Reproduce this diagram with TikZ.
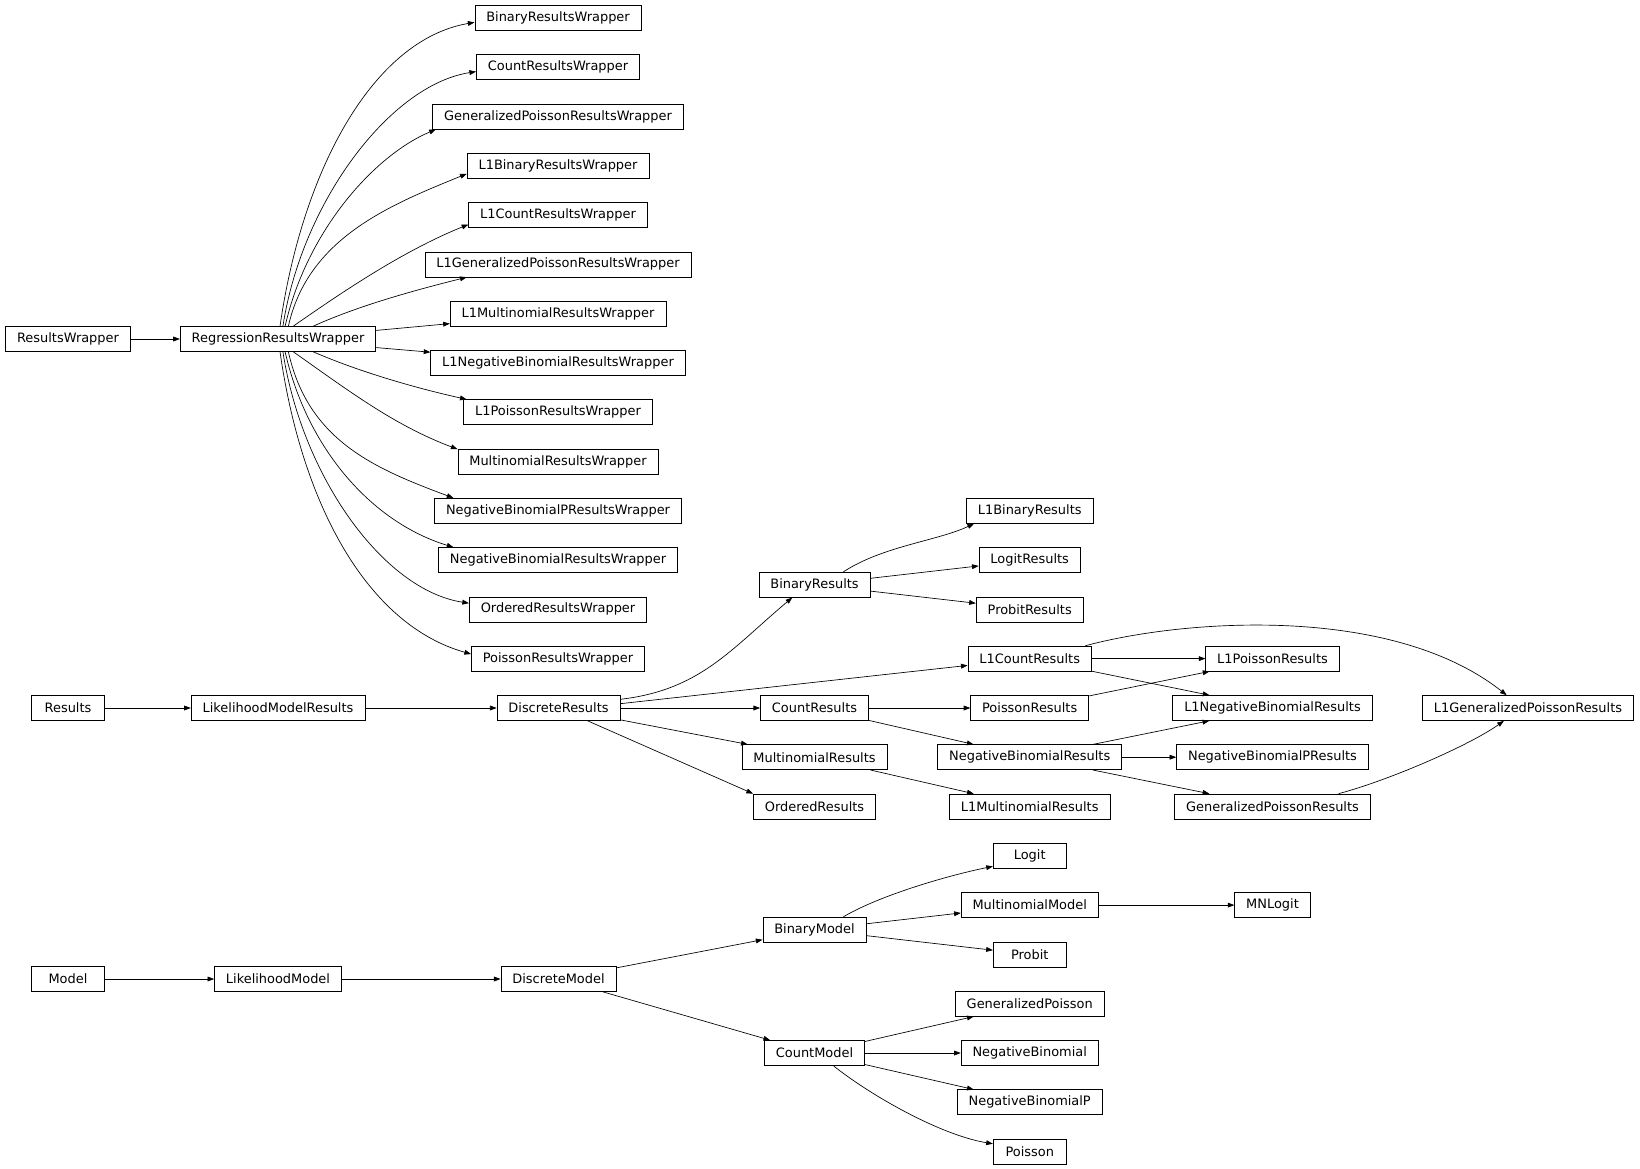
\documentclass[tikz,border=0pt]{standalone}
\usepackage{fontspec}
\setmainfont{DejaVu Sans}
\usepackage{tikz}
\usetikzlibrary{arrows.meta}
\tikzset{
  cls/.style={draw, line width=0.5pt, rectangle, inner xsep=8.6pt, inner ysep=0pt, minimum height=18.75pt, minimum width=54.75pt, font=\fontsize{9.7pt}{11pt}\selectfont},
  inh/.style={line width=0.5pt, -{Triangle[length=5pt,width=3.6pt]}}
}
\begin{document}
\begin{tikzpicture}[x=0.75pt,y=0.75pt,yscale=-1,xscale=1]
\useasboundingbox (0,0) rectangle (1640,1169);
\node[cls] (ResultsWrapper) at (68,339) {ResultsWrapper};
\node[cls] (RegressionResultsWrapper) at (278,339) {RegressionResultsWrapper};
\node[cls] (BinaryResultsWrapper) at (558,18) {BinaryResultsWrapper};
\node[cls] (CountResultsWrapper) at (558,67.3) {CountResultsWrapper};
\node[cls] (GeneralizedPoissonResultsWrapper) at (558,116.6) {GeneralizedPoissonResultsWrapper};
\node[cls] (L1BinaryResultsWrapper) at (558,165.8) {L1BinaryResultsWrapper};
\node[cls] (L1CountResultsWrapper) at (558,215.1) {L1CountResultsWrapper};
\node[cls] (L1GeneralizedPoissonResultsWrapper) at (558,264.4) {L1GeneralizedPoissonResultsWrapper};
\node[cls] (L1MultinomialResultsWrapper) at (558,313.7) {L1MultinomialResultsWrapper};
\node[cls] (L1NegativeBinomialResultsWrapper) at (558,363) {L1NegativeBinomialResultsWrapper};
\node[cls] (L1PoissonResultsWrapper) at (558,412.2) {L1PoissonResultsWrapper};
\node[cls] (MultinomialResultsWrapper) at (558,461.5) {MultinomialResultsWrapper};
\node[cls] (NegativeBinomialPResultsWrapper) at (558,510.8) {NegativeBinomialPResultsWrapper};
\node[cls] (NegativeBinomialResultsWrapper) at (558,560.1) {NegativeBinomialResultsWrapper};
\node[cls] (OrderedResultsWrapper) at (558,609.4) {OrderedResultsWrapper};
\node[cls] (PoissonResultsWrapper) at (558,658.6) {PoissonResultsWrapper};
\node[cls] (Results) at (68,708) {Results};
\node[cls] (LikelihoodModelResults) at (278,708) {LikelihoodModelResults};
\node[cls] (DiscreteResults) at (558.5,708) {DiscreteResults};
\node[cls] (BinaryResults) at (814.5,584.7) {BinaryResults};
\node[cls] (CountResults) at (814.5,708) {CountResults};
\node[cls] (MultinomialResults) at (814.5,757.2) {MultinomialResults};
\node[cls] (OrderedResults) at (814.5,806.5) {OrderedResults};
\node[cls] (L1BinaryResults) at (1029.7,510.8) {L1BinaryResults};
\node[cls] (LogitResults) at (1029.7,560.1) {LogitResults};
\node[cls] (ProbitResults) at (1029.7,609.4) {ProbitResults};
\node[cls] (L1CountResults) at (1029.7,658.6) {L1CountResults};
\node[cls] (PoissonResults) at (1029.7,708) {PoissonResults};
\node[cls] (NegativeBinomialResults) at (1029.7,757.2) {NegativeBinomialResults};
\node[cls] (L1MultinomialResults) at (1029.7,806.5) {L1MultinomialResults};
\node[cls] (L1PoissonResults) at (1272.5,658.6) {L1PoissonResults};
\node[cls] (L1NegativeBinomialResults) at (1272.5,708) {L1NegativeBinomialResults};
\node[cls] (NegativeBinomialPResults) at (1272.5,757.2) {NegativeBinomialPResults};
\node[cls] (GeneralizedPoissonResults) at (1272.5,806.5) {GeneralizedPoissonResults};
\node[cls] (L1GeneralizedPoissonResults) at (1528,708) {L1GeneralizedPoissonResults};
\node[cls] (Model) at (68,979) {Model};
\node[cls] (LikelihoodModel) at (278,979) {LikelihoodModel};
\node[cls] (DiscreteModel) at (558.5,979) {DiscreteModel};
\node[cls] (BinaryModel) at (814.5,929.7) {BinaryModel};
\node[cls] (CountModel) at (814.5,1053) {CountModel};
\node[cls] (Logit) at (1029.7,855.8) {Logit};
\node[cls] (MultinomialModel) at (1029.7,905.1) {MultinomialModel};
\node[cls] (Probit) at (1029.7,954.4) {Probit};
\node[cls] (GeneralizedPoisson) at (1029.7,1003.7) {GeneralizedPoisson};
\node[cls] (NegativeBinomial) at (1029.7,1053) {NegativeBinomial};
\node[cls] (NegativeBinomialP) at (1029.7,1102.3) {NegativeBinomialP};
\node[cls] (Poisson) at (1029.7,1151.6) {Poisson};
\node[cls] (MNLogit) at (1272.5,905.1) {MNLogit};
\draw[inh] (ResultsWrapper) -- (RegressionResultsWrapper);
\draw[inh] (RegressionResultsWrapper.81) .. controls (302,172) and (372,40) .. (BinaryResultsWrapper.183);
\draw[inh] (RegressionResultsWrapper.69) .. controls (302,202) and (390,85) .. (CountResultsWrapper.183);
\draw[inh] (RegressionResultsWrapper.61) .. controls (307,230) and (375,155) .. (GeneralizedPoissonResultsWrapper.186.5);
\draw[inh] (RegressionResultsWrapper.51) .. controls (308,238) and (390,205) .. (L1BinaryResultsWrapper.185.7);
\draw[inh] (RegressionResultsWrapper.40) .. controls (345,290) and (405,250) .. (L1CountResultsWrapper.186.9);
\draw[inh] (RegressionResultsWrapper.20) .. controls (362,304) and (424,288) .. (L1GeneralizedPoissonResultsWrapper.188.3);
\draw[inh] (RegressionResultsWrapper.5) -- (L1MultinomialResultsWrapper);
\draw[inh] (RegressionResultsWrapper.-5) -- (L1NegativeBinomialResultsWrapper);
\draw[inh] (RegressionResultsWrapper.-20) .. controls (362,373) and (420,389) .. (L1PoissonResultsWrapper.172);
\draw[inh] (RegressionResultsWrapper.-40) .. controls (345,388) and (393,425) .. (MultinomialResultsWrapper.173.1);
\draw[inh] (RegressionResultsWrapper.-51) .. controls (308,440) and (373,468) .. (NegativeBinomialPResultsWrapper.173.4);
\draw[inh] (RegressionResultsWrapper.-61) .. controls (307,448) and (371,522) .. (NegativeBinomialResultsWrapper.173.8);
\draw[inh] (RegressionResultsWrapper.-69) .. controls (302,476) and (383,590) .. (OrderedResultsWrapper.176.5);
\draw[inh] (RegressionResultsWrapper.-81) .. controls (302,506) and (368,625) .. (PoissonResultsWrapper.177.6);
\draw[inh] (Results) -- (LikelihoodModelResults);
\draw[inh] (LikelihoodModelResults) -- (DiscreteResults);
\draw[inh] (DiscreteResults.8) .. controls (700,690) and (730,650) .. (BinaryResults.210);
\draw[inh] (DiscreteResults.4) -- (L1CountResults);
\draw[inh] (DiscreteResults) -- (CountResults);
\draw[inh] (DiscreteResults) -- (MultinomialResults);
\draw[inh] (DiscreteResults) -- (OrderedResults.north west);
\draw[inh] (BinaryResults.24) .. controls (883,546) and (937,541) .. (L1BinaryResults.193);
\draw[inh] (BinaryResults) -- (LogitResults);
\draw[inh] (BinaryResults) -- (ProbitResults);
\draw[inh] (L1CountResults) -- (L1PoissonResults);
\draw[inh] (L1CountResults) -- (L1NegativeBinomialResults);
\draw[inh] (L1CountResults.13) .. controls (1180,620) and (1390,603) .. (L1GeneralizedPoissonResults.149);
\draw[inh] (CountResults) -- (PoissonResults);
\draw[inh] (CountResults) -- (NegativeBinomialResults);
\draw[inh] (PoissonResults) -- (L1PoissonResults);
\draw[inh] (NegativeBinomialResults) -- (L1NegativeBinomialResults);
\draw[inh] (NegativeBinomialResults) -- (NegativeBinomialPResults);
\draw[inh] (NegativeBinomialResults) -- (GeneralizedPoissonResults);
\draw[inh] (GeneralizedPoissonResults.11) .. controls (1390,780) and (1470,745) .. (L1GeneralizedPoissonResults.208);
\draw[inh] (MultinomialResults) -- (L1MultinomialResults);
\draw[inh] (Model) -- (LikelihoodModel);
\draw[inh] (LikelihoodModel) -- (DiscreteModel);
\draw[inh] (DiscreteModel) -- (BinaryModel);
\draw[inh] (DiscreteModel) -- (CountModel);
\draw[inh] (BinaryModel.24) .. controls (880,895) and (950,875) .. (Logit.196);
\draw[inh] (BinaryModel) -- (MultinomialModel);
\draw[inh] (BinaryModel) -- (Probit);
\draw[inh] (MultinomialModel) -- (MNLogit);
\draw[inh] (CountModel) -- (GeneralizedPoisson);
\draw[inh] (CountModel) -- (NegativeBinomial);
\draw[inh] (CountModel) -- (NegativeBinomialP);
\draw[inh] (CountModel.-34) .. controls (870,1095) and (940,1135) .. (Poisson.168);
\end{tikzpicture}
\end{document}
